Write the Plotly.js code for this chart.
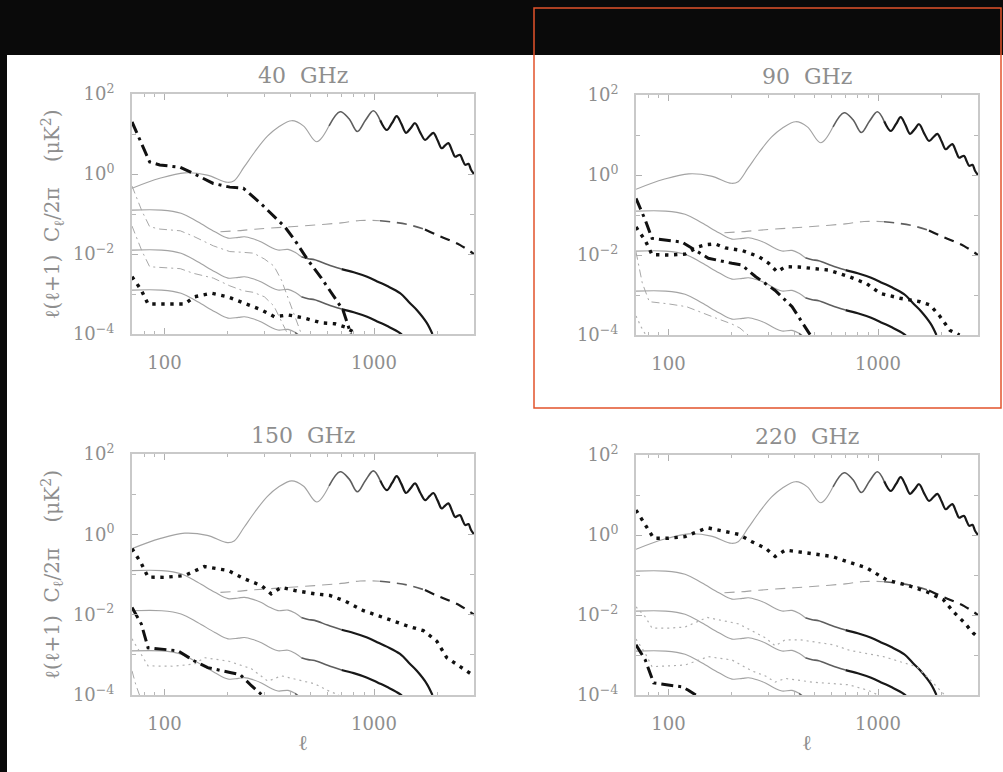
<!DOCTYPE html>
<html><head><meta charset="utf-8">
<script src="https://cdn.plot.ly/plotly-3.0.1.min.js"></script>
<style>html,body{margin:0;padding:0;background:#0a0a0a;} #chart{width:1003px;height:772px;}</style>
</head><body><div id="chart"></div>
<script>
// ---------------- data ----------------
const PANEL_TITLES = ['40\u00a0 GHz', '90\u00a0 GHz', '150\u00a0 GHz', '220\u00a0 GHz'];
const X_TICK_VALS = [100, 1000];
const X_TICK_TEXT = ['100', '1000'];
const X_MINOR_VALS = [70, 80, 90, 200, 300, 400, 500, 600, 700, 800, 900, 2000, 3000];
const Y_TICK_VALS = [1e-4, 1e-2, 1, 100];
const Y_TICK_TEXT = ['10<sup>\u22124</sup>', '10<sup>\u22122</sup>', '10<sup>0</sup>', '10<sup>2</sup>'];
const Y_MINOR_VALS = [1e-3, 1e-1, 10];
const Y_TITLE = '\u2113(\u2113+1)\u00a0 C<sub>\u2113</sub>/2\u03c0\u00a0\u00a0\u00a0 (\u03bcK<sup>2</sup>)';
const X_TITLE = '\u2113';

// CMB E-mode spectrum (same in every panel)
const ELL_EE = [70, 95, 125, 160, 200, 215, 240, 270, 310, 350, 405, 460, 533, 610, 689, 760, 833, 910, 993, 1070, 1150, 1220, 1283, 1350, 1422, 1495, 1570, 1660, 1754, 1840, 1920, 2010, 2104, 2185, 2265, 2350, 2440, 2510, 2578, 2650, 2723, 2780, 2825, 2900, 3000];
const EE = [0.44, 0.78, 1.07, 0.94, 0.62, 0.68, 1.5, 3.6, 8.8, 15, 21.5, 16, 6.4, 16, 36, 24, 11.5, 22, 38, 22, 12.6, 19, 28, 18, 10.7, 14, 18.6, 11, 7.1, 8.9, 10.7, 7, 4.4, 5.2, 5.9, 4, 2.7, 2.9, 3.0, 2.2, 1.7, 1.75, 1.8, 1.3, 1.0];

// CMB B-mode spectra for three tensor amplitudes (same in every panel)
const ELL_BB = [70, 97, 120, 144, 174, 201, 225, 241, 265, 290, 320, 348, 389, 420, 450, 485, 521, 600, 700, 800, 927, 1050, 1150, 1331, 1486, 1600, 1786, 1900];
const BB_HIGH = [0.125, 0.125, 0.104, 0.064, 0.036, 0.025, 0.026, 0.027, 0.024, 0.020, 0.015, 0.0126, 0.013, 0.011, 0.0085, 0.0076, 0.0072, 0.0055, 0.0042, 0.0035, 0.0027, 0.002, 0.0016, 0.00105, 0.00059, 0.0004, 0.00019, 0.0001];
const BB_MID = [0.0125, 0.0125, 0.0104, 0.0064, 0.0036, 0.0025, 0.0026, 0.0027, 0.0024, 0.0020, 0.0015, 0.00126, 0.0013, 0.0011, 0.00085, 0.00076, 0.00072, 0.00055, 0.00042, 0.00035, 0.00027, 0.0002, 0.00016, 0.000105, 0.000059, 0.00004, 0.000019, 0.00001];
const BB_LOW = [0.00125, 0.00125, 0.00104, 0.00064, 0.00036, 0.00025, 0.00026, 0.00027, 0.00024, 0.00020, 0.00015, 0.000126, 0.00013, 0.00011, 0.000085, 0.000076, 0.000072, 0.000055, 0.000042, 0.000035, 0.000027, 0.00002, 0.000016, 0.0000105, 0.0000059, 0.000004, 0.0000019, 0.000001];

// Lensing B-mode (dashed)
const ELL_LENS = [185, 220, 260, 312, 400, 521, 698, 857, 1068, 1250, 1486, 1750, 1990, 2300, 2578, 3000];
const LENS = [0.036, 0.038, 0.041, 0.044, 0.048, 0.053, 0.060, 0.069, 0.068, 0.062, 0.053, 0.041, 0.030, 0.022, 0.0167, 0.0100];

// 40 GHz foregrounds
const ELL_SYNC_40 = [70, 85, 95, 119, 137, 171, 205, 238, 286, 343, 375, 419, 484, 561, 650, 711, 775];
const SYNC_40 = [20, 2.0, 1.68, 1.47, 1.04, 0.58, 0.47, 0.44, 0.19, 0.078, 0.048, 0.022, 0.007, 0.0025, 0.00078, 0.0004, 0.0001];
const ELL_SYNCRES_40 = [70, 78, 85, 95, 119, 137, 171, 205, 238, 266, 300, 333, 362, 389, 420, 450];
const SYNCRES_40_A = [0.5, 0.12, 0.048, 0.042, 0.038, 0.028, 0.016, 0.0115, 0.011, 0.0105, 0.0075, 0.005, 0.0022, 0.0008, 0.00028, 0.0001];
const SYNCRES_40_B = [0.05, 0.012, 0.0048, 0.0046, 0.0043, 0.0033, 0.0025, 0.0016, 0.0012, 0.0011, 0.00085, 0.0005, 0.0002, 0.0001, 0.00004, 0.00002];
const ELL_DUST_40 = [70, 77.5, 83.5, 100, 125, 139, 167, 201, 241, 290, 335, 389, 466, 561, 650, 725, 830];
const DUST_40 = [0.0027, 0.00126, 0.00056, 0.00055, 0.00056, 0.00085, 0.00105, 0.00085, 0.00059, 0.0004, 0.00027, 0.0003, 0.00025, 0.00019, 0.00018, 0.00015, 0.0001];

// 90 GHz foregrounds
const ELL_SYNC_90 = [70, 77.5, 83.5, 97, 116, 129, 155, 201, 224, 260, 323, 389, 475];
const SYNC_90 = [0.26, 0.075, 0.026, 0.024, 0.021, 0.015, 0.0083, 0.0062, 0.0056, 0.0029, 0.0013, 0.00051, 0.0001];
const ELL_SYNCRES_90 = [70, 75, 81, 100, 122, 140, 170, 200, 219, 240];
const SYNCRES_90 = [0.012, 0.002, 0.00068, 0.0006, 0.00051, 0.00038, 0.00026, 0.00019, 0.00015, 0.0001];
const ELL_DUST_90 = [70, 77.5, 83.5, 100, 120, 139, 150, 167, 187, 224, 270, 301, 330, 361, 419, 484, 582, 725, 884, 1023, 1274, 1587, 1772, 1977, 2207, 2450];
const DUST_90 = [0.05, 0.023, 0.0102, 0.0100, 0.0105, 0.016, 0.018, 0.019, 0.015, 0.013, 0.0091, 0.0062, 0.0038, 0.0051, 0.005, 0.0047, 0.0042, 0.0029, 0.0019, 0.0011, 0.00083, 0.00068, 0.00056, 0.00029, 0.00013, 0.0001];
const ELL_DUSTRES_90 = [70, 74, 78];
const DUSTRES_90 = [0.0003, 0.00016, 0.0001];

// 150 GHz foregrounds
const ELL_SYNC_150 = [70, 77.5, 83.5, 97, 116, 139, 161, 208, 230, 260, 292];
const SYNC_150 = [0.015, 0.0059, 0.0015, 0.0014, 0.00126, 0.0007, 0.00048, 0.00036, 0.00032, 0.00017, 0.0001];
const ELL_SYNCRES_150 = [70, 73, 76];
const SYNCRES_150 = [0.0004, 0.00018, 0.0001];
const ELL_DUST_150 = [70, 77.5, 83.5, 100, 125, 155, 201, 241, 290, 323, 361, 419, 521, 616, 725, 890, 1109, 1433, 1720, 1992, 2223, 2483, 2871, 3000];
const DUST_150 = [0.44, 0.19, 0.086, 0.085, 0.094, 0.158, 0.126, 0.078, 0.053, 0.033, 0.048, 0.04, 0.033, 0.03, 0.022, 0.0126, 0.0085, 0.0053, 0.004, 0.0022, 0.00085, 0.00059, 0.00036, 0.0003];
const ELL_DUSTRES_150 = [70, 77, 83.5, 110, 139, 155, 201, 260, 312, 361, 430, 521, 600, 680];
const DUSTRES_150 = [0.0025, 0.0011, 0.00053, 0.00052, 0.00059, 0.00085, 0.0007, 0.00045, 0.00022, 0.0003, 0.00024, 0.00019, 0.00013, 0.0001];

// 220 GHz foregrounds
const ELL_SYNC_220 = [70, 77.5, 85, 97, 116, 125, 135];
const SYNC_220 = [0.0018, 0.00075, 0.0002, 0.00018, 0.00016, 0.00013, 0.0001];
const ELL_DUST_220 = [70, 77.5, 85, 100, 120, 153, 216, 250, 290, 323, 361, 450, 604, 725, 884, 1101, 1372, 1709, 2052, 2290, 2556, 2852, 2950];
const DUST_220 = [4.2, 1.78, 0.83, 0.83, 0.91, 1.52, 1.04, 0.68, 0.47, 0.29, 0.42, 0.36, 0.29, 0.21, 0.15, 0.075, 0.056, 0.038, 0.024, 0.012, 0.0068, 0.0035, 0.003];
const ELL_DUSTRES_220_A = [70, 77.5, 83.5, 100, 120, 153, 216, 250, 290, 323, 361, 425, 612, 735, 1062, 1274, 1530, 1772, 1977, 2080];
const DUSTRES_220_A = [0.016, 0.009, 0.0047, 0.0047, 0.005, 0.0087, 0.006, 0.004, 0.0027, 0.0017, 0.0024, 0.0024, 0.0018, 0.0013, 0.00091, 0.00068, 0.00051, 0.00024, 0.00013, 0.0001];
const ELL_DUSTRES_220_B = [70, 77.5, 83.5, 120, 155, 201, 250, 290, 323, 361, 484, 725, 900, 1000];
const DUSTRES_220_B = [0.0025, 0.0011, 0.00051, 0.00056, 0.00091, 0.00075, 0.0004, 0.0003, 0.00021, 0.00026, 0.00021, 0.00018, 0.00013, 0.0001];

// ---------------- styling / layout ----------------
const W = 1003, H = 772;
const PANELS = [ // pixel boxes of the plot areas
  {l: 132, r: 474, t: 94, b: 334},
  {l: 636, r: 978, t: 95, b: 335},
  {l: 132, r: 474, t: 454, b: 695},
  {l: 636, r: 978, t: 455, b: 695}
];
const TEXT_GRAY = '#8e8e8e';
const FONT = 'DejaVu Serif, Liberation Serif, serif';
const BANDS = [{c: '#a3a3a3', w: 1.15}, {c: '#5e5e5e', w: 1.6}, {c: '#181818', w: 2.2}];

const traces = [];
function axisIds(p) { return p === 0 ? ['x', 'y'] : ['x' + (p + 1), 'y' + (p + 1)]; }

function addLine(p, ells, vals, line, shape) {
  const [xa, ya] = axisIds(p);
  traces.push({type: 'scatter', mode: 'lines', x: ells, y: vals, xaxis: xa, yaxis: ya,
    line: Object.assign({shape: shape || 'linear', smoothing: 1}, line),
    hoverinfo: 'skip', showlegend: false});
}

// draw a curve that darkens with multipole, split at breaks (overlapping by one point)
function addFaded(p, ells, vals, breaks, dash) {
  const idx = [0];
  breaks.forEach(b => { let i = ells.findIndex(e => e >= b); if (i < 0) i = ells.length - 1; idx.push(i); });
  idx.push(ells.length - 1);
  for (let s = 0; s < idx.length - 1; s++) {
    const a = idx[s], z = idx[s + 1];
    if (z <= a) continue;
    const st = BANDS[s];
    addLine(p, ells.slice(a, z + 1), vals.slice(a, z + 1), {color: st.c, width: st.w, dash: dash || 'solid'}, 'spline');
  }
}

const THICK_DD = {color: '#111', width: 3, dash: '12px,5px,3px,5px'};
const THIN_DD = {color: '#a8a8a8', width: 1, dash: '8px,4px,2px,4px'};
const THICK_DOT = {color: '#111', width: 3.4, dash: '3.4px,5.6px'};
const THIN_DOT = {color: '#b0b0b0', width: 1.2, dash: '2px,4px'};

for (let p = 0; p < 4; p++) {
  addFaded(p, ELL_EE, EE, [600, 1000]);
  addFaded(p, ELL_BB, BB_HIGH, [450, 650]);
  addFaded(p, ELL_BB, BB_MID, [450, 650]);
  addFaded(p, ELL_BB, BB_LOW, [400, 600]);
  addFaded(p, ELL_LENS, LENS, [1000, 1500], '10px,7px');
}
// foregrounds
addLine(0, ELL_SYNCRES_40, SYNCRES_40_A, THIN_DD);
addLine(0, ELL_SYNCRES_40, SYNCRES_40_B, THIN_DD);
addLine(0, ELL_SYNC_40, SYNC_40, THICK_DD);
addLine(0, ELL_DUST_40, DUST_40, THICK_DOT);

addLine(1, ELL_SYNCRES_90, SYNCRES_90, THIN_DD);
addLine(1, ELL_DUSTRES_90, DUSTRES_90, THIN_DOT);
addLine(1, ELL_SYNC_90, SYNC_90, THICK_DD);
addLine(1, ELL_DUST_90, DUST_90, THICK_DOT);

addLine(2, ELL_SYNCRES_150, SYNCRES_150, THIN_DD);
addLine(2, ELL_DUSTRES_150, DUSTRES_150, THIN_DOT);
addLine(2, ELL_SYNC_150, SYNC_150, THICK_DD);
addLine(2, ELL_DUST_150, DUST_150, THICK_DOT);

addLine(3, ELL_DUSTRES_220_A, DUSTRES_220_A, THIN_DOT);
addLine(3, ELL_DUSTRES_220_B, DUSTRES_220_B, THIN_DOT);
addLine(3, ELL_SYNC_220, SYNC_220, THICK_DD);
addLine(3, ELL_DUST_220, DUST_220, THICK_DOT);

const layout = {
  width: W, height: H, margin: {l: 0, r: 0, t: 0, b: 0},
  paper_bgcolor: '#0a0a0a', plot_bgcolor: '#ffffff', showlegend: false,
  font: {family: FONT, color: TEXT_GRAY},
  shapes: [
    {type: 'rect', xref: 'paper', yref: 'paper', x0: 7 / W, x1: 1, y0: 0, y1: 1 - 55 / H,
     fillcolor: '#ffffff', line: {width: 0}, layer: 'below'},
    {type: 'rect', xref: 'paper', yref: 'paper', x0: 534 / W, x1: 1001 / W, y0: 1 - 408 / H, y1: 1 - 8 / H,
     fillcolor: 'rgba(0,0,0,0)', line: {color: '#e2532b', width: 1.5}, layer: 'above'}
  ],
  annotations: []
};

PANELS.forEach((b, p) => {
  const xk = p === 0 ? 'xaxis' : 'xaxis' + (p + 1);
  const yk = p === 0 ? 'yaxis' : 'yaxis' + (p + 1);
  const [xa, ya] = axisIds(p);
  layout[xk] = {
    type: 'log', range: [Math.log10(70), Math.log10(3000)], domain: [b.l / W, b.r / W], anchor: ya,
    tickmode: 'array', tickvals: X_TICK_VALS, ticktext: X_TICK_TEXT, ticks: 'inside', ticklen: 6, tickwidth: 1, tickcolor: '#b0b0b0',
    minor: {tickmode: 'array', tickvals: X_MINOR_VALS, ticks: 'inside', ticklen: 3, tickwidth: 1, tickcolor: '#b8b8b8', showgrid: false},
    showline: true, linecolor: '#c9c9c9', linewidth: 2, mirror: 'ticks', showgrid: false, zeroline: false,
    ticklabelstandoff: 11, tickfont: {family: FONT, size: 18, color: TEXT_GRAY}, fixedrange: true
  };
  layout[yk] = {
    type: 'log', range: [-4, 2], domain: [1 - b.b / H, 1 - b.t / H], anchor: xa,
    tickmode: 'array', tickvals: Y_TICK_VALS, ticktext: Y_TICK_TEXT, ticks: 'inside', ticklen: 6, tickwidth: 1, tickcolor: '#b0b0b0',
    minor: {tickmode: 'array', tickvals: Y_MINOR_VALS, ticks: 'inside', ticklen: 4, tickwidth: 1, tickcolor: '#b8b8b8', showgrid: false},
    showline: true, linecolor: '#c9c9c9', linewidth: 2, mirror: 'ticks', showgrid: false, zeroline: false,
    ticklabelstandoff: 12, tickfont: {family: FONT, size: 18, color: TEXT_GRAY}, fixedrange: true
  };
  const cx = (b.l + b.r) / 2 / W;
  layout.annotations.push({text: PANEL_TITLES[p], xref: 'paper', yref: 'paper', x: cx, y: 1 - (b.t - 19) / H,
    xanchor: 'center', yanchor: 'middle', showarrow: false, font: {family: FONT, size: 22, color: TEXT_GRAY}});
  if (p % 2 === 0) {
    layout.annotations.push({text: Y_TITLE, xref: 'paper', yref: 'paper', x: 52 / W, y: 1 - (b.t + b.b) / 2 / H,
      xanchor: 'center', yanchor: 'middle', textangle: -90, showarrow: false, font: {family: FONT, size: 20, color: TEXT_GRAY}});
  }
  if (p >= 2) {
    layout.annotations.push({text: X_TITLE, xref: 'paper', yref: 'paper', x: cx, y: 1 - 743 / H,
      xanchor: 'center', yanchor: 'middle', showarrow: false, font: {family: FONT, size: 21, color: TEXT_GRAY}});
  }
});

Plotly.newPlot('chart', traces, layout, {staticPlot: true, displayModeBar: false});
</script></body></html>
